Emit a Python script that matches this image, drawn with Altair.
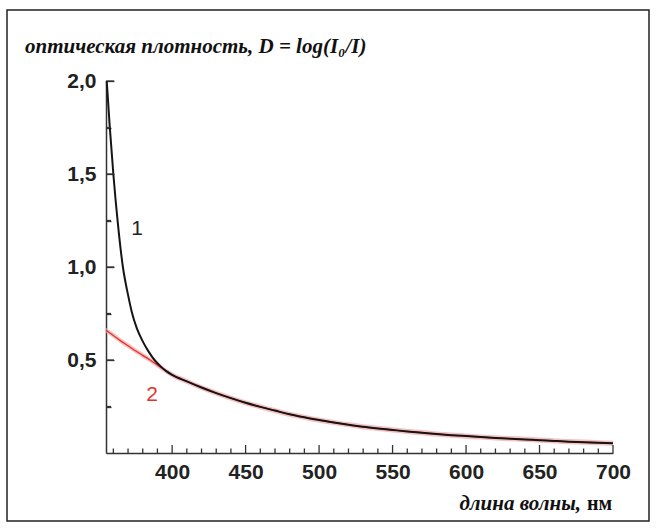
import altair as alt
import pandas as pd

# --- data ---
wl_black = [355.5, 357.5, 360, 363, 366.5, 370, 372.5, 376, 380, 384, 388, 392, 396,
            400, 410, 420, 430, 440, 450, 460, 470, 480, 490, 500, 510, 520, 530, 540, 550,
            560, 570, 580, 590, 600, 610, 620, 630, 640, 650, 660, 670, 680, 690, 700]
d_black = [2.0, 1.76, 1.5, 1.24, 1.0, 0.85, 0.76, 0.67, 0.6, 0.545, 0.5, 0.467, 0.44,
           0.42, 0.385, 0.352, 0.322, 0.295, 0.27, 0.248, 0.228, 0.208, 0.192, 0.177, 0.164,
           0.152, 0.141, 0.132, 0.124, 0.116, 0.109, 0.102, 0.096, 0.091, 0.086, 0.081, 0.077,
           0.073, 0.069, 0.065, 0.061, 0.058, 0.055, 0.052]

wl_red = [355, 360, 365, 370, 375, 380, 385, 390, 395,
          400, 410, 420, 430, 440, 450, 460, 470, 480, 490, 500, 510, 520, 530, 540, 550,
          560, 570, 580, 590, 600, 610, 620, 630, 640, 650, 660, 670, 680, 690, 700]
d_red = [0.66, 0.632, 0.603, 0.577, 0.55, 0.525, 0.5, 0.472, 0.445,
         0.42, 0.385, 0.352, 0.322, 0.295, 0.27, 0.248, 0.228, 0.208, 0.192, 0.177, 0.164,
         0.152, 0.141, 0.132, 0.124, 0.116, 0.109, 0.102, 0.096, 0.091, 0.086, 0.081, 0.077,
         0.073, 0.069, 0.065, 0.061, 0.058, 0.055, 0.052]

x_ticks = list(range(360, 701, 10))      # labelled every 50
y_ticks = [0.25, 0.5, 0.75, 1.0, 1.25, 1.5, 1.75, 2.0]   # labelled every 0.5

title_text = "оптическая плотность, D = log(I₀/I)"
xtitle_a = "длина волны,"
xtitle_b = "нм"

W, H = 507, 372
X0, X1, Y0, Y1 = 355, 700, 0, 2
BAND = 0.014
SERIF = "Liberation Serif"
MAJ, MIN_X, MIN_Y = 8, 4.5, 5
GAP = 3000
TW = 1.3   # tick thickness in px

black = pd.DataFrame({"wl": wl_black, "d": d_black})
red = pd.DataFrame({"wl": wl_red, "d": d_red})
red["lo"] = red["d"] - BAND
red["hi"] = red["d"] + BAND

# inward ticks as thin rectangles, sizes converted to data units
px_nm = W / (X1 - X0)
px_d = H / (Y1 - Y0)
rows = []
for v in x_ticks:
    ln = (MAJ if v % 50 == 0 else MIN_X) / px_d
    rows.append({"a": v - TW / 2 / px_nm, "b": v + TW / 2 / px_nm, "c": Y0, "e": Y0 + ln})
for v in y_ticks:
    ln = (MAJ if v % 0.5 == 0 else MIN_Y) / px_nm
    rows.append({"a": X0, "b": X0 + ln, "c": v - TW / 2 / px_d, "e": v + TW / 2 / px_d})
tick_df = pd.DataFrame(rows)

xs = alt.Scale(domain=[X0, X1], nice=False, zero=False)
ys = alt.Scale(domain=[Y0, Y1], nice=False)

x_axis = alt.Axis(values=x_ticks, title=None, ticks=False, grid=False, zindex=0,
                  labelExpr="datum.value % 50 == 0 ? format(datum.value, 'd') : ''",
                  labelFont="Liberation Sans", labelFontWeight="bold", labelFontSize=21,
                  labelColor="#222", labelPadding=8, domainColor="#333", domainWidth=1.5,
                  labelOverlap=False, labelFlush=False, labelBound=False)
y_axis = alt.Axis(values=y_ticks, title=None, ticks=False, zindex=0,
                  labelExpr="datum.value % 0.5 == 0 ? replace(format(datum.value, '.1f'), '.', ',') : ''",
                  labelFont="Liberation Sans", labelFontWeight="bold", labelFontSize=21,
                  labelColor="#222", labelPadding=10, domainColor="#333", domainWidth=1.5,
                  labelOverlap=False, labelFlush=False, labelBound=False,
                  grid=True, gridColor="#333", gridWidth=TW, gridOpacity=1,
                  gridDash={"condition": {"test": "datum.value % 0.5 == 0", "value": [MAJ, GAP]},
                            "value": [MIN_Y, GAP]})

X = lambda f: alt.X(f, scale=xs, axis=x_axis)
Y = lambda f: alt.Y(f, scale=ys, axis=y_axis)

band = alt.Chart(red).mark_area(color="#f0a8a8", opacity=0.7, interpolate="monotone").encode(
    x=X("wl:Q"), y=Y("lo:Q"), y2="hi:Q")
red_line = alt.Chart(red).mark_line(color="#e0342b", strokeWidth=1.3, interpolate="monotone").encode(
    x=X("wl:Q"), y=Y("d:Q"))
black_line = alt.Chart(black).mark_line(color="#151515", strokeWidth=2, interpolate="monotone").encode(
    x=X("wl:Q"), y=Y("d:Q"))

frame = alt.Chart(pd.DataFrame({"k": [0]})).mark_rect(filled=False, stroke="#222", strokeWidth=1.5).encode(
    x=alt.value(-99), x2=alt.value(543), y=alt.value(-71), y2=alt.value(440))

title = alt.Chart(pd.DataFrame({"t": [title_text]})).mark_text(
    font=SERIF, fontStyle="italic", fontWeight="bold", fontSize=21,
    align="left", baseline="middle", color="#111").encode(
    text="t:N", x=alt.value(-81), y=alt.value(-34))

xt_a = alt.Chart(pd.DataFrame({"t": [xtitle_a]})).mark_text(
    font=SERIF, fontStyle="italic", fontWeight="bold", fontSize=21,
    align="right", baseline="middle", color="#111").encode(
    text="t:N", x=alt.value(475), y=alt.value(423))
xt_b = alt.Chart(pd.DataFrame({"t": [xtitle_b]})).mark_text(
    font=SERIF, fontWeight="bold", fontSize=20,
    align="left", baseline="middle", color="#111").encode(
    text="t:N", x=alt.value(481), y=alt.value(423))

lab1 = alt.Chart(pd.DataFrame({"t": ["1"]})).mark_text(
    font="Liberation Sans", fontSize=21, align="center", baseline="middle", color="#222").encode(
    text="t:N", x=alt.value(31), y=alt.value(148))
lab2 = alt.Chart(pd.DataFrame({"t": ["2"]})).mark_text(
    font="Liberation Sans", fontSize=21, align="center", baseline="middle", color="#e0342b").encode(
    text="t:N", x=alt.value(46), y=alt.value(314))

ticks = alt.Chart(tick_df).mark_rect(color="#333", opacity=1).encode(
    x=X("a:Q"), x2="b:Q", y=Y("c:Q"), y2="e:Q")

chart = alt.layer(band, red_line, black_line, frame,
                  title, xt_a, xt_b, lab1, lab2, ticks).properties(
    width=W, height=H,
    autosize=alt.AutoSizeParams(type="none"),
    padding={"left": 106, "top": 81, "right": 43, "bottom": 75},
    background="white",
).configure_view(stroke=None).configure_axis(labelOverlap=False, labelBound=False)

chart.save("out.html", embed_options={"renderer": "svg", "actions": False})
